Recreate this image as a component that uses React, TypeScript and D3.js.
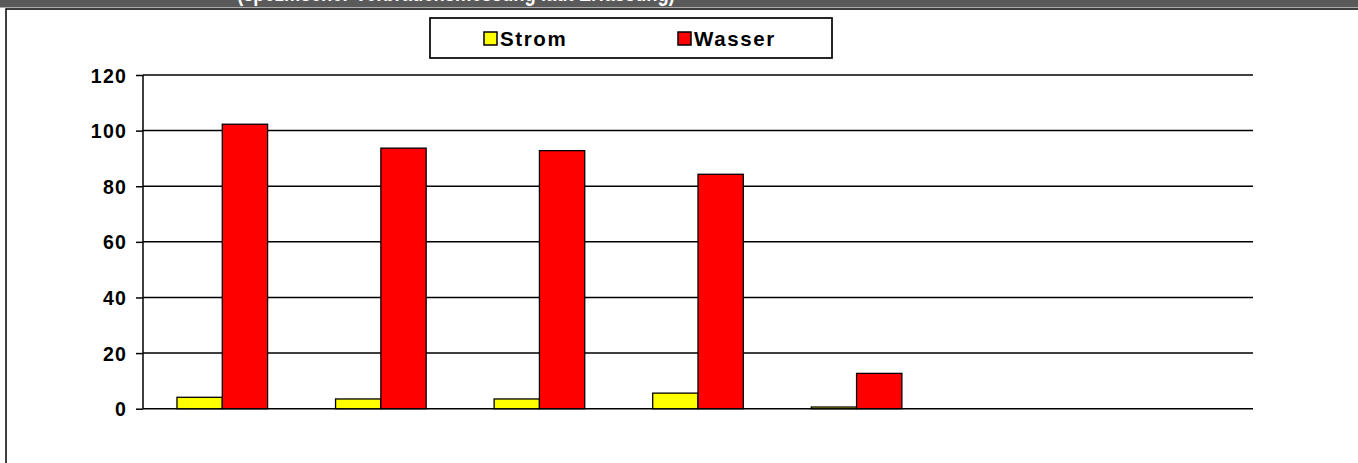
import React, { useRef, useEffect } from 'react';
import * as d3 from 'd3';

// 7 slots on the x axis, only the first five carry values
const categories = ['1', '2', '3', '4', '5', '6', '7'];
const seriesNames = ['Strom', 'Wasser'];
const stromValues: (number | null)[] = [4.1, 3.5, 3.5, 5.6, 0.6, null, null];
const wasserValues: (number | null)[] = [102.3, 93.7, 92.8, 84.3, 12.7, null, null];
const yTicks = [0, 20, 40, 60, 80, 100, 120];
const seriesColors = ['#ffff00', '#ff0000'];
const headerText = '(spezifischer Verbrauchsmessung laut Erfassung)';

const App: React.FC = () => {
  const svgRef = useRef<SVGSVGElement>(null);

  useEffect(() => {
    if (!svgRef.current) return;
    const width = 1358;
    const height = 463;
    const margin = { top: 75, right: 105, bottom: 54, left: 143 };
    const innerWidth = width - margin.left - margin.right;

    const svg = d3.select(svgRef.current).attr('width', width).attr('height', height);
    svg.selectAll('*').remove();

    // header strip, its title is mostly cut off at the top of the page
    svg.append('rect').attr('x', 0).attr('y', 0).attr('width', width).attr('height', 7.5).attr('fill', '#5a5a5a');
    svg.append('text')
      .attr('x', 237)
      .attr('y', 0.5)
      .attr('fill', '#ffffff')
      .attr('font-family', 'Liberation Sans, Arial, sans-serif')
      .attr('font-weight', 'bold')
      .attr('font-size', 24)
      .attr('textLength', 438)
      .attr('lengthAdjust', 'spacingAndGlyphs')
      .text(headerText);

    // chart frame
    svg.append('rect')
      .attr('x', 6).attr('y', 9)
      .attr('width', width + 20).attr('height', height + 20)
      .attr('fill', '#ffffff').attr('stroke', '#000').attr('stroke-width', 1.5);

    const y = d3.scaleLinear().domain([0, 120]).range([408.7, 75]);
    const x0 = d3.scaleBand().domain(categories).range([margin.left, margin.left + innerWidth]).paddingInner(0).paddingOuter(0);
    const x1 = d3.scaleBand().domain(seriesNames).range([0, x0.bandwidth()]).paddingInner(0).paddingOuter(0.75);

    const g = svg.append('g');

    // gridlines
    g.selectAll('.grid')
      .data(yTicks)
      .join('line')
      .attr('x1', margin.left)
      .attr('x2', margin.left + innerWidth)
      .attr('y1', d => y(d))
      .attr('y2', d => y(d))
      .attr('stroke', '#000')
      .attr('stroke-width', 1.5);

    // y axis
    const yAxisG = g.append('g').attr('transform', `translate(${margin.left},0)`);
    yAxisG.call(d3.axisLeft(y).tickValues(yTicks).tickSize(7).tickPadding(9).tickFormat(d3.format('d')));
    yAxisG.select('.domain').attr('stroke', '#000').attr('stroke-width', 1.5).attr('d', `M0,${y(0)}V${y(120)}`);
    yAxisG.selectAll('.tick line').attr('stroke', '#000').attr('stroke-width', 1.5);
    yAxisG.selectAll('.tick text')
      .attr('fill', '#000')
      .attr('font-family', 'Liberation Sans, Arial, sans-serif')
      .attr('font-weight', 'bold')
      .attr('font-size', 19.5)
      .attr('letter-spacing', 1.2)
      .attr('dy', '0.36em');

    // bars
    const rows = categories.map((c, i) => ({ c, vals: [stromValues[i], wasserValues[i]] }));
    const groups = g.selectAll('.grp')
      .data(rows)
      .join('g')
      .attr('transform', d => `translate(${x0(d.c)},0)`);
    groups.selectAll('rect')
      .data(d => d.vals.map((v, k) => ({ name: seriesNames[k], v, k })).filter(e => e.v !== null))
      .join('rect')
      .attr('x', d => x1(d.name)!)
      .attr('width', x1.bandwidth())
      .attr('y', d => y(d.v as number))
      .attr('height', d => y(0) - y(d.v as number))
      .attr('fill', d => seriesColors[d.k])
      .attr('stroke', '#000')
      .attr('stroke-width', 1.3);

    // legend
    const lg = svg.append('g');
    lg.append('rect').attr('x', 430).attr('y', 18).attr('width', 402).attr('height', 40)
      .attr('fill', '#fff').attr('stroke', '#000').attr('stroke-width', 1.7);
    const legendX = [484, 678];
    seriesNames.forEach((name, i) => {
      lg.append('rect').attr('x', legendX[i]).attr('y', 32).attr('width', 13).attr('height', 13)
        .attr('fill', seriesColors[i]).attr('stroke', '#000').attr('stroke-width', 1.5);
      lg.append('text')
        .attr('x', legendX[i] + 16)
        .attr('y', 46)
        .attr('font-family', 'Liberation Sans, Arial, sans-serif')
        .attr('font-weight', 'bold')
        .attr('font-size', 20.5)
        .attr('letter-spacing', 1.6)
        .text(name);
    });
  }, []);

  return (
    <div style={{ position: 'fixed', left: 0, top: 0, width: 1358, height: 463, background: '#fff', overflow: 'hidden' }}>
      <svg ref={svgRef} style={{ display: 'block' }}></svg>
    </div>
  );
};

export default App;
